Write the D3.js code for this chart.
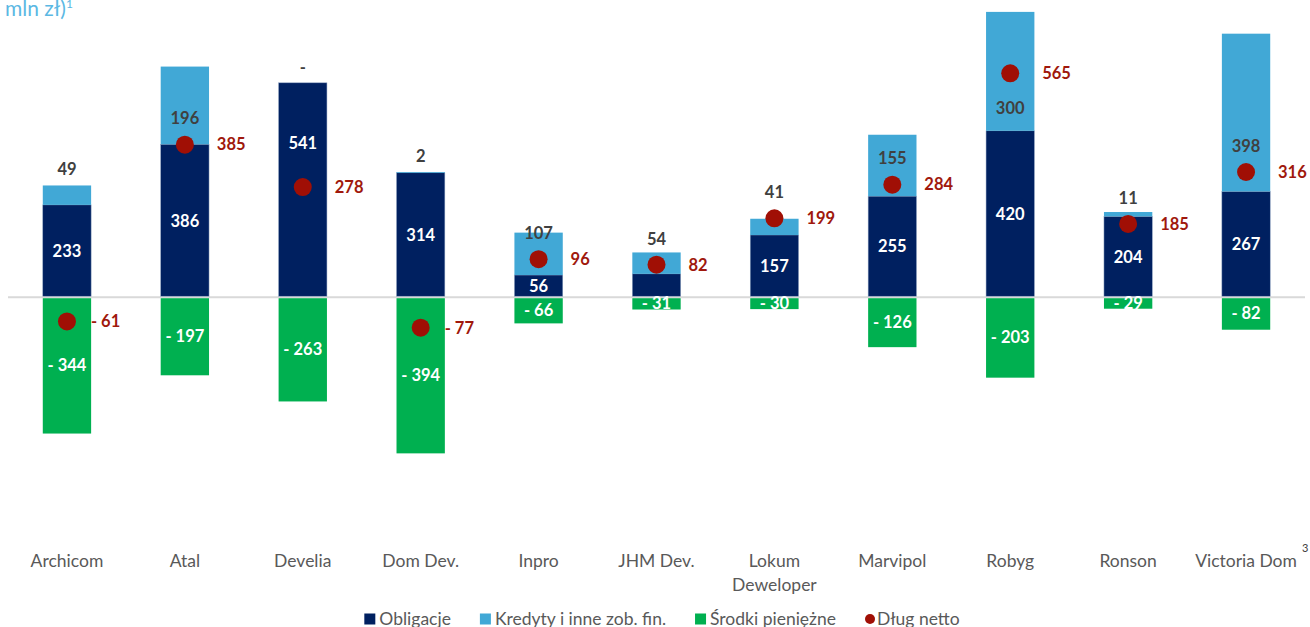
<!DOCTYPE html>
<html>
<head>
<meta charset="utf-8">
<script src="https://cdn.jsdelivr.net/npm/d3@7"></script>
<style>
  body { margin: 0; background: #fff; }
  text { font-family: "Source Sans Pro", Lato, "Noto Sans", sans-serif; }
</style>
</head>
<body>
<svg id="viz"></svg>
<script>
var width = 1310;
var height = 627;

// values (mln zł)
var categories = ["Archicom", "Atal", "Develia", "Dom Dev.", "Inpro", "JHM Dev.",
                  "Lokum Deweloper", "Marvipol", "Robyg", "Ronson", "Victoria Dom"];
var obligacje = [233, 386, 541, 314, 56, 59, 157, 255, 420, 204, 267];
var kredyty   = [49, 196, 0, 2, 107, 54, 41, 155, 300, 11, 398];
var srodki    = [-344, -197, -263, -394, -66, -31, -30, -126, -203, -29, -82];
var dlugNetto = [-61, 385, 278, -77, 96, 82, 199, 284, 565, 185, 316];
var legendLabels = ["Obligacje", "Kredyty i inne zob. fin.", "Środki pieniężne", "Dług netto"];

var colNavy = "#002060", colBlue = "#41a8d6", colGreen = "#00b050", colDot = "#a00f05";
var colRedText = "#a0180c", colGray = "#595959";

var svg = d3.select("#viz").attr("width", width).attr("height", height);

var x = d3.scaleBand().domain(categories).range([8, 1305])
    .paddingInner(0.59).paddingOuter(0.295);
var y = d3.scaleLinear().domain([-600, 750]).range([535, 0]);

// formatting: negatives as "- 61", zero as "-"
function fmt(v) {
    if (v === 0) return "-";
    return v < 0 ? "- " + Math.abs(v) : String(v);
}

var rows = categories.map(function(c, i) {
    return {cat: c, obl: obligacje[i], kred: kredyty[i], sr: srodki[i], dlug: dlugNetto[i]};
});

// zero line
svg.append("line")
    .attr("x1", 8).attr("x2", 1305)
    .attr("y1", y(0)).attr("y2", y(0))
    .attr("stroke", "#d9d9d9").attr("stroke-width", 2);

var g = svg.append("g");

// green (cash) bars below zero
g.selectAll("rect.sr").data(rows).enter().append("rect")
    .attr("class", "sr")
    .attr("x", function(d) { return x(d.cat); })
    .attr("width", x.bandwidth())
    .attr("y", y(0) + 1)
    .attr("height", function(d) { return y(d.sr) - y(0) - 1; })
    .attr("fill", colGreen);

// bonds
g.selectAll("rect.obl").data(rows).enter().append("rect")
    .attr("class", "obl")
    .attr("x", function(d) { return x(d.cat); })
    .attr("width", x.bandwidth())
    .attr("y", function(d) { return y(d.obl); })
    .attr("height", function(d) { return y(0) - y(d.obl) - 1; })
    .attr("fill", colNavy)
    .attr("stroke", "#8da2c0").attr("stroke-width", 0.5);

// credits stacked on top
g.selectAll("rect.kred").data(rows).enter().append("rect")
    .attr("class", "kred")
    .attr("x", function(d) { return x(d.cat); })
    .attr("width", x.bandwidth())
    .attr("y", function(d) { return y(d.obl + d.kred); })
    .attr("height", function(d) { return y(d.obl) - y(d.obl + d.kred); })
    .attr("fill", colBlue);

var cx = function(d) { return x(d.cat) + x.bandwidth() / 2; };

// labels for cash
g.selectAll("text.sr").data(rows).enter().append("text")
    .attr("x", cx)
    .attr("y", function(d) { return (y(0) + y(d.sr)) / 2; })
    .attr("dy", "0.35em")
    .attr("text-anchor", "middle")
    .attr("fill", "#fff").attr("font-weight", 700).attr("font-size", 16.5)
    .text(function(d) { return fmt(d.sr); });

// labels for bonds, moved above the dot if they would collide
g.selectAll("text.obl").data(rows).enter().append("text")
    .attr("x", cx)
    .attr("y", function(d) {
        var mid = (y(0) + y(d.obl)) / 2;
        var dot = y(d.dlug);
        return Math.abs(mid - dot) < 22 ? dot - 44 : mid;
    })
    .attr("dy", "0.35em")
    .attr("text-anchor", "middle")
    .attr("fill", "#fff").attr("font-weight", 700).attr("font-size", 16.5)
    .text(function(d) { return fmt(d.obl); });

// labels for credits: above the dot when it sits in the segment, else above the bar
g.selectAll("text.kred").data(rows).enter().append("text")
    .attr("x", cx)
    .attr("y", function(d) {
        var top = y(d.obl + d.kred), bot = y(d.obl), dot = y(d.dlug);
        if (dot >= top - 10 && dot <= bot + 10) {
            // tall segment with room under the dot: put the label below it
            return (bot - dot > 50 && dot - top < 70) ? dot + 35 : dot - 26;
        }
        return top - 16;
    })
    .attr("dy", "0.35em")
    .attr("text-anchor", "middle")
    .attr("fill", "#404040").attr("font-weight", 700).attr("font-size", 16.5)
    .text(function(d) { return fmt(d.kred); });

// net debt dots
g.selectAll("circle.dlug").data(rows).enter().append("circle")
    .attr("cx", cx)
    .attr("cy", function(d) { return y(d.dlug); })
    .attr("r", 9)
    .attr("fill", colDot);

g.selectAll("text.dlug").data(rows).enter().append("text")
    .attr("x", function(d) { return cx(d) + (d.dlug < 0 ? 24 : 32); })
    .attr("y", function(d) { return y(d.dlug); })
    .attr("dy", "0.35em")
    .attr("fill", colRedText).attr("font-weight", 700).attr("font-size", 16.5)
    .text(function(d) { return fmt(d.dlug); });

// category labels (Lokum Deweloper wraps)
var cats = svg.append("g").selectAll("text").data(categories).enter().append("text")
    .attr("text-anchor", "middle")
    .attr("fill", colGray).attr("font-size", 17.5)
    .attr("y", 561);
cats.each(function(c) {
    var t = d3.select(this);
    var parts = c === "Lokum Deweloper" ? ["Lokum", "Deweloper"] : [c];
    parts.forEach(function(p, k) {
        t.append("tspan").attr("x", x(c) + x.bandwidth() / 2)
            .attr("dy", k === 0 ? "0.35em" : 24).text(p);
    });
});
svg.append("text")
    .attr("x", x("Victoria Dom") + x.bandwidth() / 2 + 56)
    .attr("y", 552)
    .attr("fill", "#404040").attr("font-size", 11)
    .text("3");

// cut-off unit title in the corner
var ttl = svg.append("text").attr("x", 5).attr("y", 16)
    .attr("fill", "#5bb8e3").attr("font-size", 21);
ttl.append("tspan").text("mln zł)");
ttl.append("tspan").attr("font-size", 12).attr("dy", -8).text("1");

// legend
var legend = svg.append("g");
var lx = 0;
var items = legend.selectAll("g").data(legendLabels).enter().append("g");
items.each(function(lbl, i) {
    var it = d3.select(this);
    if (i < 3) {
        it.append("rect").attr("x", 0).attr("y", -5.5).attr("width", 11).attr("height", 11)
            .attr("fill", [colNavy, colBlue, colGreen][i]);
    } else {
        it.append("circle").attr("cx", 5).attr("cy", 0).attr("r", 5).attr("fill", colDot);
    }
    var t = it.append("text").attr("x", i < 3 ? 15 : 12).attr("dy", "0.35em")
        .attr("fill", colGray).attr("font-size", 17.5).text(lbl);
    it.attr("transform", "translate(" + lx + ",0)");
    lx += (i < 3 ? 15 : 12) + t.node().getComputedTextLength() + 29;
});
lx -= 29;
legend.attr("transform", "translate(" + (662 - lx / 2) + ",619)");
</script>
</body>
</html>
